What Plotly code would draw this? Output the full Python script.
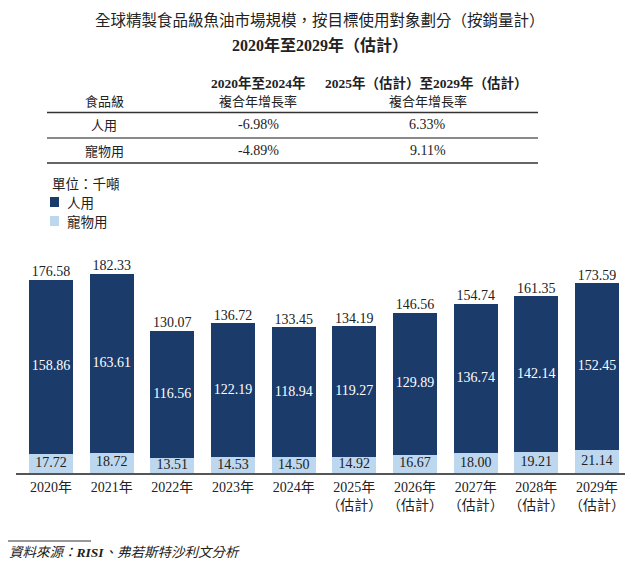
import plotly.graph_objects as go

# ---- data ----
years = ["2020年", "2021年", "2022年", "2023年", "2024年",
         "2025年<br>（估計）", "2026年<br>（估計）", "2027年<br>（估計）",
         "2028年<br>（估計）", "2029年<br>（估計）"]
human = [158.86, 163.61, 116.56, 122.19, 118.94, 119.27, 129.89, 136.74, 142.14, 152.45]
pet = [17.72, 18.72, 13.51, 14.53, 14.50, 14.92, 16.67, 18.00, 19.21, 21.14]
totals = [176.58, 182.33, 130.07, 136.72, 133.45, 134.19, 146.56, 154.74, 161.35, 173.59]

table_rows = ["人用", "寵物用"]
cagr_hist = ["-6.98%", "-4.89%"]
cagr_fore = ["6.33%", "9.11%"]

DARK = "#1b3b6b"
LIGHT = "#bdd7ee"
TXT = "#222222"
FONT = "Liberation Serif, Noto Sans CJK TC, serif"
CJK = "Noto Sans CJK TC, Liberation Serif, sans-serif"

# the page body has an 8px margin; work in window pixels and offset
OX, OY = 8, 8
W, H = 624, 551
PL, PR, PT, PB = 16, 625, 250, 473   # plot area in window pixels
L, R, T, B = PL - OX, W - (PR - OX), PT - OY, H - (PB - OY)
PW, PH = W - L - R, H - T - B


def px(x):
    return (x - OX - L) / PW


def py(y):
    return (H - B - (y - OY)) / PH


fig = go.Figure()

fig.add_trace(go.Bar(x=years, y=pet, marker_color=LIGHT, width=0.725,
                     marker_line_width=0, name="寵物用", hoverinfo="skip"))
fig.add_trace(go.Bar(x=years, y=human, marker_color=DARK, width=0.725,
                     marker_line_width=0, name="人用", hoverinfo="skip"))

# labels
fig.add_trace(go.Scatter(x=years, y=[p / 2 for p in pet], mode="text",
                         text=[f"{v:.2f}" for v in pet],
                         textfont=dict(family=FONT, size=14, color=TXT),
                         textposition="middle center", hoverinfo="skip"))
fig.add_trace(go.Scatter(x=years, y=[p + h / 2 for p, h in zip(pet, human)], mode="text",
                         text=[f"{v:.2f}" for v in human],
                         textfont=dict(family=FONT, size=14, color="white"),
                         textposition="middle center", hoverinfo="skip"))
fig.add_trace(go.Scatter(x=years, y=totals, mode="text",
                         text=[f"{v:.2f}" for v in totals],
                         textfont=dict(family=FONT, size=14, color=TXT),
                         textposition="top center", hoverinfo="skip"))

ann = []


def A(text, x, y, size=13, xanchor="center", family=CJK, color=TXT):
    ann.append(dict(text=text, x=px(x), y=py(y), xref="paper", yref="paper",
                    xanchor=xanchor, yanchor="middle", showarrow=False,
                    font=dict(family=family, size=size, color=color)))


# titles
A("全球精製食品級魚油市場規模，按目標使用對象劃分（按銷量計）", 320, 19, size=15.5)
A("<b>2020年至2029年（估計）</b>", 320, 45, size=16, family=FONT)

# table
A("<b>2020年至2024年</b>", 258, 83, size=13.5, family=FONT)
A("複合年增長率", 258, 100)
A("<b>2025年（估計）至2029年（估計）</b>", 426, 83, size=13.5, family=FONT)
A("複合年增長率", 428, 100)
A("食品級", 104, 100)
for i, (r, a, b) in enumerate(zip(table_rows, cagr_hist, cagr_fore)):
    yy = 125 + i * 25
    A(r, 104, yy)
    A(a, 258, yy, size=14, family=FONT)
    A(b, 428, yy, size=14, family=FONT)

# legend
A("單位：千噸", 50, 183, size=13.5, xanchor="left")
A("人用", 65, 202, size=13.5, xanchor="left")
A("寵物用", 65, 221, size=13.5, xanchor="left")

# source
A("<i>資料來源：<b>RISI</b>、弗若斯特沙利文分析</i>", 7, 552, size=13.5, xanchor="left", family=FONT)

shapes = []


def line(x0, x1, y, color, w):
    shapes.append(dict(type="line", xref="paper", yref="paper",
                       x0=px(x0), x1=px(x1), y0=py(y), y1=py(y),
                       line=dict(color=color, width=w)))


line(47, 538, 112.5, "#333333", 1.5)
line(47, 538, 138, "#8a8a8a", 2)
line(47, 538, 163, "#333333", 1.5)
line(7, 91, 541, "#333333", 1)

for y0, c in [(197, DARK), (216, LIGHT)]:
    shapes.append(dict(type="rect", xref="paper", yref="paper",
                       x0=px(50), x1=px(59), y0=py(y0 + 10), y1=py(y0),
                       line=dict(width=0), fillcolor=c))

fig.update_layout(
    width=W, height=H, barmode="stack", showlegend=False,
    margin=dict(l=L, r=R, t=T, b=B, pad=0),
    paper_bgcolor="white", plot_bgcolor="white",
    annotations=ann, shapes=shapes,
    xaxis=dict(range=[-0.577, -0.577 + PW / 60.67], showgrid=False,
               showline=True, linecolor="#555555", linewidth=1.5,
               ticks="", tickfont=dict(family=FONT, size=14, color=TXT),
               fixedrange=True),
    yaxis=dict(range=[0, PH / 1.094], visible=False, fixedrange=True),
)

fig.write_html("out.html")
